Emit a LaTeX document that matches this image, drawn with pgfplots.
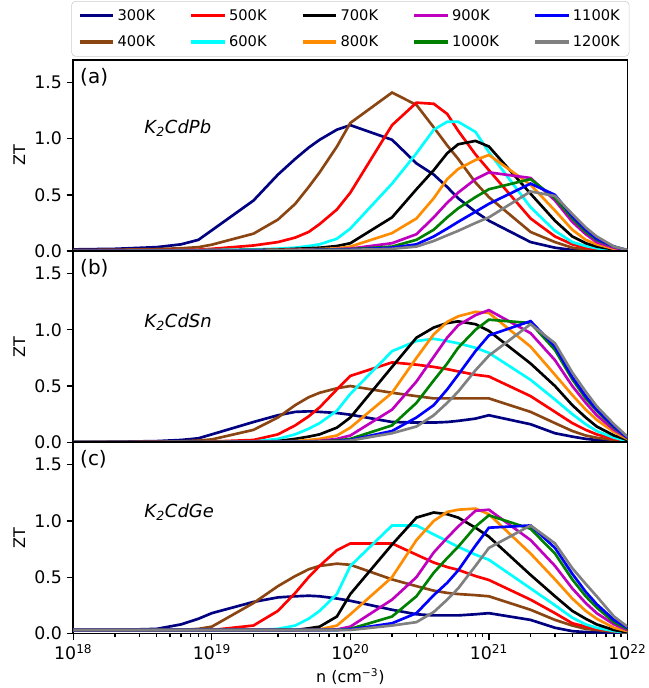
\documentclass[border=0pt]{standalone}
\usepackage{fontspec}
\setmainfont{DejaVu Sans}
\usepackage{pgfplots}
\pgfplotsset{compat=1.18}
\usepackage{pgfplotstable}
\usepgfplotslibrary{groupplots}

\definecolor{cnavy}{RGB}{0,0,128}
\definecolor{cbrown}{RGB}{139,69,19}
\definecolor{cred}{RGB}{255,0,0}
\definecolor{ccyan}{RGB}{0,255,255}
\definecolor{cblack}{RGB}{0,0,0}
\definecolor{corange}{RGB}{255,140,0}
\definecolor{cmag}{RGB}{191,0,191}
\definecolor{cgreen}{RGB}{0,128,0}
\definecolor{cblue}{RGB}{0,0,255}
\definecolor{cgray}{RGB}{128,128,128}

% (a) K2CdPb
\pgfplotstableread{
n     t300  t400  t500  t600  t700  t800  t900  t1000 t1100 t1200
1e18  0.015 0.010 0.005 0.004 0.003 0.003 0.002 0.002 0.002 0.002
2e18  0.020 0.012 0.006 0.005 0.004 0.003 0.003 0.002 0.002 0.002
4e18  0.035 0.018 0.008 0.006 0.005 0.004 0.003 0.003 0.003 0.003
6e18  0.060 0.025 0.010 0.007 0.005 0.004 0.004 0.003 0.003 0.003
8e18  0.100 0.035 0.013 0.008 0.006 0.005 0.004 0.004 0.003 0.003
1e19  0.185 0.057 0.020 0.010 0.007 0.006 0.005 0.004 0.004 0.004
2e19  0.450 0.155 0.050 0.015 0.010 0.008 0.006 0.005 0.005 0.004
3e19  0.680 0.280 0.080 0.022 0.013 0.010 0.008 0.006 0.006 0.005
4e19  0.820 0.420 0.120 0.030 0.020 0.013 0.010 0.008 0.007 0.006
5e19  0.920 0.570 0.170 0.045 0.025 0.015 0.012 0.010 0.008 0.007
6e19  0.990 0.700 0.240 0.060 0.030 0.018 0.014 0.012 0.010 0.008
8e19  1.080 0.930 0.370 0.110 0.045 0.025 0.018 0.015 0.012 0.010
1e20  1.120 1.140 0.520 0.200 0.070 0.040 0.022 0.017 0.013 0.011
2e20  0.990 1.410 1.120 0.600 0.300 0.160 0.070 0.040 0.030 0.020
3e20  0.780 1.300 1.320 0.870 0.550 0.290 0.150 0.100 0.060 0.040
4e20  0.680 1.100 1.310 1.080 0.720 0.470 0.300 0.190 0.130 0.090
5e20  0.570 0.940 1.220 1.150 0.870 0.640 0.430 0.300 0.200 0.140
6e20  0.470 0.820 1.070 1.150 0.950 0.730 0.520 0.380 0.260 0.180
8e20  0.350 0.610 0.860 1.060 0.980 0.810 0.640 0.480 0.350 0.250
1e21  0.270 0.480 0.720 0.880 0.930 0.855 0.700 0.550 0.420 0.300
2e21  0.080 0.170 0.290 0.390 0.510 0.590 0.650 0.640 0.600 0.530
3e21  0.030 0.080 0.130 0.180 0.270 0.360 0.450 0.470 0.500 0.490
4e21  0.010 0.030 0.060 0.080 0.130 0.190 0.260 0.290 0.310 0.330
5e21  0.007 0.015 0.030 0.045 0.070 0.100 0.150 0.170 0.190 0.210
6e21  0.005 0.010 0.020 0.025 0.040 0.060 0.080 0.100 0.110 0.130
8e21  0.002 0.004 0.010 0.010 0.015 0.020 0.030 0.040 0.040 0.040
1e22  0.001 0.001 0.002 0.003 0.004 0.005 0.006 0.007 0.008 0.010
}\dataA

% (b) K2CdSn
\pgfplotstableread{
n     t300  t400  t500  t600  t700  t800  t900  t1000 t1100 t1200
1e18  0.002 0.001 0.001 0.001 0.001 0.001 0.001 0.001 0.001 0.001
2e18  0.004 0.002 0.001 0.001 0.001 0.001 0.001 0.001 0.001 0.001
4e18  0.010 0.005 0.002 0.001 0.001 0.001 0.001 0.001 0.001 0.001
6e18  0.020 0.008 0.003 0.002 0.001 0.001 0.001 0.001 0.001 0.001
8e18  0.035 0.015 0.004 0.002 0.002 0.001 0.001 0.001 0.001 0.001
1e19  0.070 0.025 0.006 0.003 0.002 0.002 0.001 0.001 0.001 0.001
2e19  0.180 0.110 0.020 0.006 0.003 0.003 0.002 0.002 0.002 0.002
3e19  0.240 0.220 0.070 0.030 0.010 0.005 0.004 0.003 0.003 0.003
4e19  0.270 0.330 0.150 0.070 0.030 0.010 0.006 0.005 0.004 0.004
5e19  0.275 0.400 0.230 0.120 0.050 0.020 0.008 0.006 0.005 0.005
6e19  0.270 0.440 0.310 0.170 0.070 0.030 0.012 0.008 0.006 0.006
8e19  0.260 0.480 0.470 0.280 0.130 0.060 0.030 0.015 0.010 0.008
1e20  0.245 0.500 0.590 0.430 0.220 0.130 0.060 0.030 0.020 0.015
2e20  0.180 0.440 0.710 0.810 0.670 0.440 0.290 0.150 0.100 0.080
3e20  0.175 0.410 0.690 0.900 0.930 0.750 0.540 0.350 0.220 0.140
4e20  0.175 0.390 0.670 0.920 1.020 0.960 0.760 0.550 0.330 0.240
5e20  0.180 0.390 0.650 0.900 1.060 1.070 0.930 0.700 0.470 0.350
6e20  0.190 0.390 0.630 0.880 1.075 1.120 1.040 0.840 0.600 0.450
8e20  0.210 0.390 0.600 0.840 1.050 1.160 1.130 1.000 0.810 0.640
1e21  0.240 0.390 0.585 0.795 0.990 1.150 1.175 1.090 0.950 0.770
2e21  0.160 0.270 0.410 0.555 0.700 0.850 0.970 1.060 1.077 1.050
3e21  0.080 0.170 0.270 0.380 0.500 0.600 0.730 0.820 0.850 0.880
4e21  0.050 0.100 0.170 0.250 0.330 0.420 0.500 0.560 0.580 0.620
5e21  0.030 0.060 0.110 0.160 0.220 0.290 0.350 0.390 0.410 0.450
6e21  0.020 0.040 0.070 0.100 0.140 0.200 0.240 0.280 0.290 0.320
8e21  0.010 0.020 0.030 0.040 0.060 0.090 0.110 0.130 0.140 0.160
1e22  0.005 0.010 0.010 0.010 0.020 0.030 0.040 0.040 0.040 0.050
}\dataB

% (c) K2CdGe
\pgfplotstableread{
n     t300  t400  t500  t600  t700  t800  t900  t1000 t1100 t1200
1e18  0.030 0.030 0.030 0.030 0.030 0.030 0.030 0.030 0.030 0.030
2e18  0.030 0.030 0.030 0.030 0.030 0.030 0.030 0.030 0.030 0.030
4e18  0.040 0.030 0.030 0.030 0.030 0.030 0.030 0.030 0.030 0.030
6e18  0.080 0.030 0.030 0.030 0.030 0.030 0.030 0.030 0.030 0.030
8e18  0.130 0.040 0.030 0.030 0.030 0.030 0.030 0.030 0.030 0.030
1e19  0.180 0.060 0.030 0.030 0.030 0.030 0.030 0.030 0.030 0.030
2e19  0.280 0.270 0.070 0.030 0.030 0.030 0.030 0.030 0.030 0.030
3e19  0.320 0.420 0.200 0.040 0.030 0.030 0.030 0.030 0.030 0.030
4e19  0.330 0.510 0.360 0.070 0.030 0.030 0.030 0.030 0.030 0.030
5e19  0.335 0.570 0.500 0.130 0.045 0.030 0.030 0.030 0.030 0.030
6e19  0.330 0.600 0.600 0.200 0.060 0.035 0.030 0.030 0.030 0.030
8e19  0.310 0.620 0.740 0.350 0.150 0.070 0.035 0.030 0.030 0.030
1e20  0.290 0.610 0.800 0.600 0.350 0.170 0.060 0.040 0.035 0.030
2e20  0.210 0.480 0.800 0.960 0.790 0.500 0.300 0.150 0.090 0.070
3e20  0.170 0.420 0.700 0.960 1.030 0.830 0.500 0.330 0.180 0.100
4e20  0.160 0.380 0.630 0.880 1.075 1.000 0.720 0.540 0.340 0.190
5e20  0.160 0.360 0.590 0.820 1.060 1.080 0.850 0.670 0.450 0.300
6e20  0.160 0.350 0.565 0.770 1.030 1.100 0.950 0.770 0.560 0.400
8e20  0.170 0.340 0.510 0.700 0.940 1.110 1.090 0.950 0.780 0.600
1e21  0.180 0.330 0.475 0.655 0.860 1.060 1.100 1.050 0.940 0.760
2e21  0.120 0.210 0.300 0.400 0.520 0.710 0.830 0.930 0.960 0.960
3e21  0.050 0.120 0.180 0.250 0.330 0.480 0.600 0.710 0.760 0.800
4e21  0.020 0.070 0.090 0.140 0.200 0.310 0.400 0.480 0.530 0.580
5e21  0.012 0.040 0.060 0.080 0.130 0.200 0.270 0.330 0.370 0.440
6e21  0.010 0.030 0.040 0.050 0.080 0.130 0.180 0.230 0.260 0.330
8e21  0.007 0.015 0.020 0.020 0.030 0.050 0.080 0.100 0.120 0.150
1e22  0.005 0.010 0.010 0.010 0.010 0.020 0.030 0.040 0.050 0.060
}\dataC

\newcommand{\allcurves}[1]{%
  \addplot[cnavy]   table[x=n, y=t300]  {#1};
  \addplot[cbrown]  table[x=n, y=t400]  {#1};
  \addplot[cred]    table[x=n, y=t500]  {#1};
  \addplot[ccyan]   table[x=n, y=t600]  {#1};
  \addplot[cblack]  table[x=n, y=t700]  {#1};
  \addplot[corange] table[x=n, y=t800]  {#1};
  \addplot[cmag]    table[x=n, y=t900]  {#1};
  \addplot[cgreen]  table[x=n, y=t1000] {#1};
  \addplot[cblue]   table[x=n, y=t1100] {#1};
  \addplot[cgray]   table[x=n, y=t1200] {#1};
}

\begin{document}
\begin{tikzpicture}
\begin{groupplot}[
  group style={group size=1 by 3, vertical sep=0pt},
  width=416pt, height=143.5pt, scale only axis,
  xmode=log, xmin=1e18, xmax=1e22,
  ymin=0, ymax=1.7,
  ytick={0,0.5,1,1.5},
  yticklabel style={/pgf/number format/.cd, fixed, fixed zerofill, precision=1, assume math mode=true},
  tick label style={font=\fontsize{13}{15}\selectfont},
  label style={font=\fontsize{12}{14}\selectfont},
  ylabel={ZT},
  tick align=outside, tick pos=left,
  major tick length=5pt, minor tick length=3pt,
  every tick/.style={black, line width=1pt},
  axis line style={line width=1.2pt},
  every axis plot/.append style={line width=2pt, no marks},
  clip=true,
]
\nextgroupplot[xmajorticks=false, xminorticks=false,
  legend style={at={(0.5,1.0)}, anchor=south, yshift=2.5pt,
    draw=black!20, rounded corners=3pt, fill=white,
    font=\fontsize{11}{13}\selectfont, row sep=6pt, inner xsep=5pt, inner ysep=4pt,
    /tikz/every even column/.append style={column sep=24pt}},
  legend columns=2, transpose legend, legend cell align=left,
  legend image code/.code={\draw[#1, line width=2.5pt] (0pt,0pt) -- (25pt,0pt);}]
\allcurves{\dataA}
\legend{300K,400K,500K,600K,700K,800K,900K,1000K,1100K,1200K}
\node[anchor=west, font=\fontsize{15}{17}\selectfont] at (rel axis cs:0.004,0.91) {(a)};
\node[anchor=west, font=\fontsize{13.5}{16}\selectfont] at (rel axis cs:0.12,0.645) {\textit{K\textsubscript{2}CdPb}};

\nextgroupplot[xmajorticks=false, xminorticks=false]
\allcurves{\dataB}
\node[anchor=west, font=\fontsize{15}{17}\selectfont] at (rel axis cs:0.004,0.91) {(b)};
\node[anchor=west, font=\fontsize{13.5}{16}\selectfont] at (rel axis cs:0.12,0.63) {\textit{K\textsubscript{2}CdSn}};

\nextgroupplot[
  xtick={1e18,1e19,1e20,1e21,1e22},
  xticklabels={10\textsuperscript{18},10\textsuperscript{19},10\textsuperscript{20},10\textsuperscript{21},10\textsuperscript{22}},
  minor xtick={2e18,3e18,4e18,5e18,6e18,7e18,8e18,9e18,2e19,3e19,4e19,5e19,6e19,7e19,8e19,9e19,2e20,3e20,4e20,5e20,6e20,7e20,8e20,9e20,2e21,3e21,4e21,5e21,6e21,7e21,8e21,9e21},
  xlabel={n (cm\textsuperscript{−3})}]
\allcurves{\dataC}
\node[anchor=west, font=\fontsize{15}{17}\selectfont] at (rel axis cs:0.004,0.91) {(c)};
\node[anchor=west, font=\fontsize{13.5}{16}\selectfont] at (rel axis cs:0.12,0.635) {\textit{K\textsubscript{2}CdGe}};
\end{groupplot}
% page margins as in the reference
\pgfresetboundingbox
\path ([shift={(-55pt,45pt)}]group c1r1.north west) rectangle ([shift={(431.7pt,-41pt)}]group c1r3.south west);
\end{tikzpicture}
\end{document}
